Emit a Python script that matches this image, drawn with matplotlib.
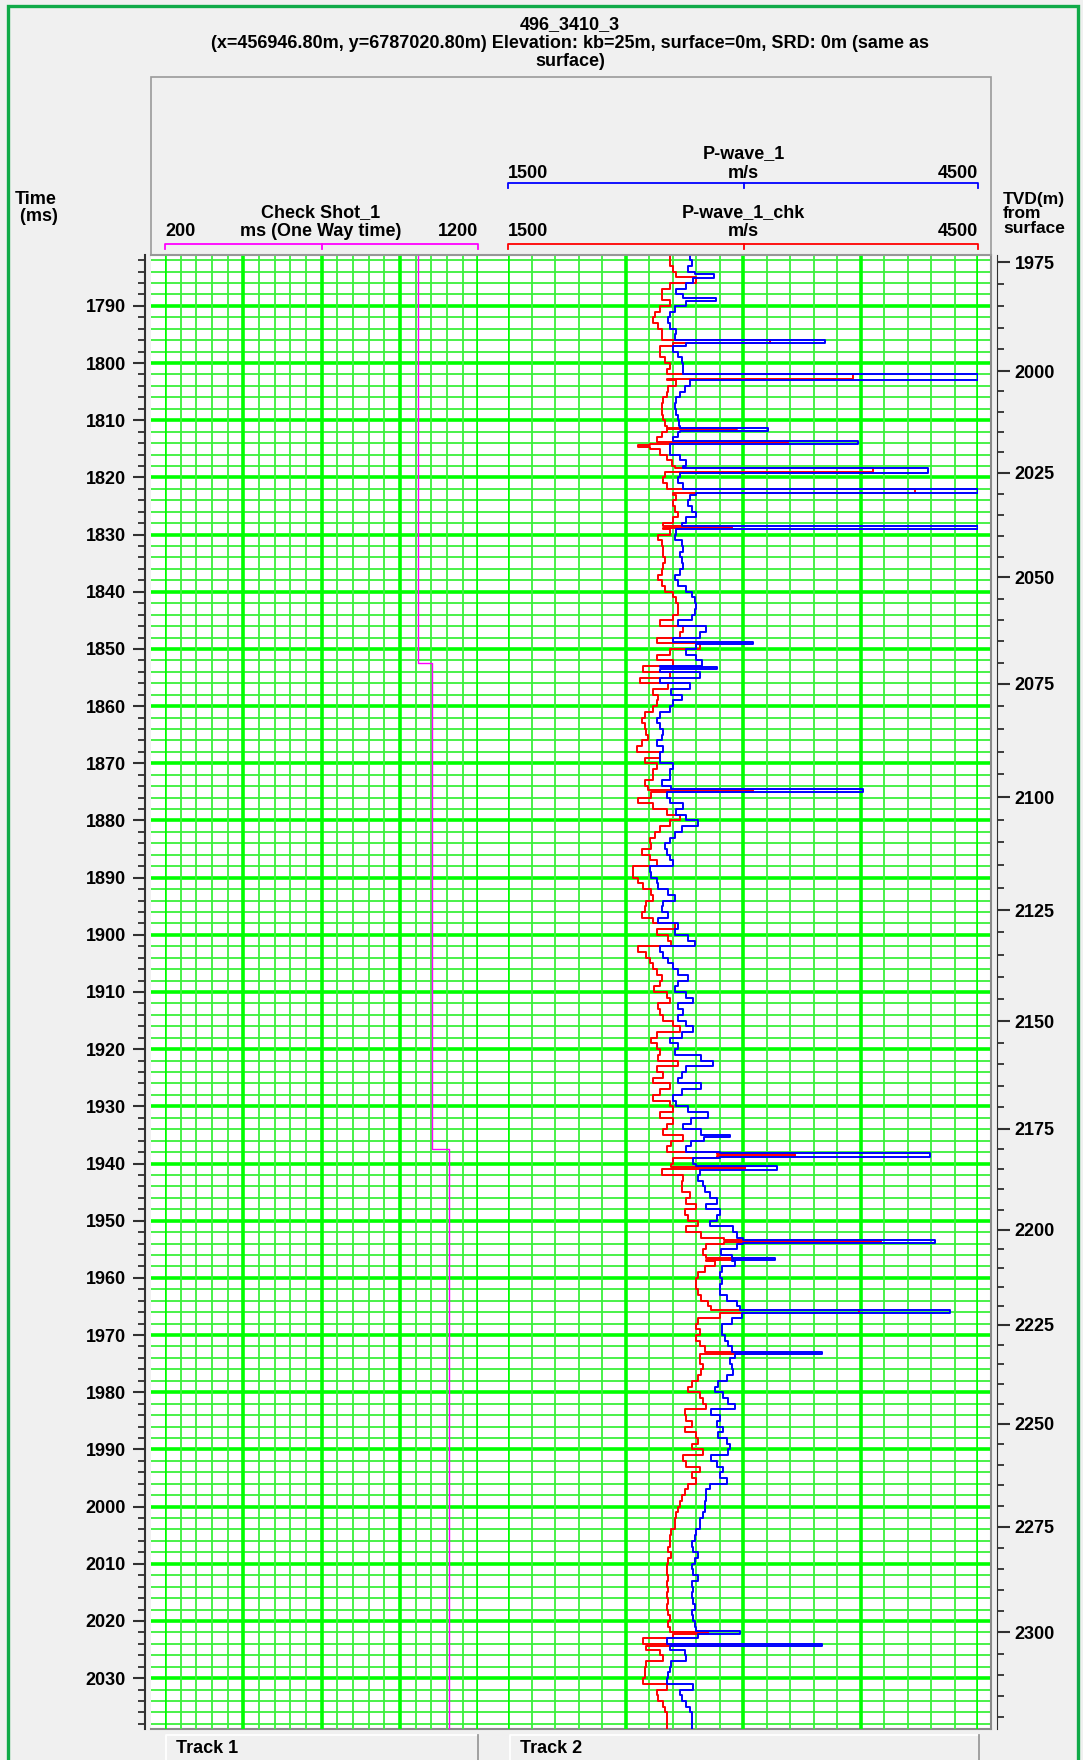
import numpy as np
import matplotlib.pyplot as plt
from matplotlib.patches import Rectangle
from matplotlib.lines import Line2D
from matplotlib.ticker import MultipleLocator

W, H = 1083, 1760
plt.rcParams['font.family'] = ['Liberation Sans', 'DejaVu Sans']
plt.rcParams['font.weight'] = 'bold'

t_top, t_bot = 1781.1, 2038.9
base_t0 = 1781  # first sample, then one value per ms

blue_v = [
    2659, 2670, 2648, 2690, 2680, 2637, 2573, 2616, 2637, 2563,  # 1781-1790
    2531, 2520, 2531, 2573, 2563, 2637, 2552, 2584, 2606, 2616,  # 1791-1800
    2616, 2701, 2659, 2627, 2595, 2573, 2563, 2573, 2584, 2590,  # 1801-1810
    2595, 2584, 2552, 2531, 2531, 2595, 2637, 2616, 2595, 2584,  # 1811-1820
    2616, 2701, 2659, 2648, 2670, 2701, 2637, 2606, 2573, 2563,  # 1821-1830
    2606, 2616, 2595, 2606, 2616, 2595, 2563, 2584, 2637, 2670,  # 1831-1840
    2690, 2701, 2690, 2670, 2584, 2759, 2722, 2552, 2701, 2637,  # 1841-1850
    2701, 2738, 2467, 2722, 2467, 2659, 2541, 2606, 2552, 2531,  # 1851-1860
    2467, 2446, 2467, 2489, 2478, 2446, 2489, 2467, 2467, 2552,  # 1861-1870
    2531, 2531, 2478, 2541, 2510, 2531, 2616, 2573, 2637, 2712,  # 1871-1880
    2606, 2563, 2531, 2499, 2510, 2531, 2552, 2404, 2414, 2446,  # 1881-1890
    2457, 2520, 2563, 2489, 2478, 2520, 2457, 2584, 2563, 2648,  # 1891-1900
    2690, 2467, 2489, 2520, 2552, 2584, 2648, 2584, 2563, 2637,  # 1901-1910
    2680, 2584, 2616, 2584, 2637, 2680, 2606, 2531, 2584, 2563,  # 1911-1920
    2733, 2808, 2637, 2606, 2584, 2733, 2606, 2552, 2573, 2648,  # 1921-1930
    2776, 2669, 2616, 2733, 2750, 2669, 2637, 2850, 2680, 2701,  # 1931-1940
    2722, 2712, 2744, 2755, 2786, 2829, 2765, 2850, 2829, 2786,  # 1941-1950
    2935, 2957, 3000, 2957, 2855, 2925, 2946, 2861, 2850, 2861,  # 1951-1960
    2850, 2850, 2893, 2957, 2978, 2990, 2925, 2861, 2861, 2882,  # 1961-1970
    2903, 2925, 2946, 2914, 2925, 2935, 2893, 2840, 2818, 2871,  # 1971-1980
    2903, 2946, 2797, 2850, 2829, 2871, 2840, 2893, 2914, 2903,  # 1981-1990
    2797, 2829, 2871, 2850, 2893, 2786, 2765, 2765, 2755, 2755,  # 1991-2000
    2744, 2722, 2722, 2701, 2690, 2670, 2680, 2712, 2690, 2670,  # 2001-2010
    2680, 2712, 2670, 2680, 2670, 2680, 2690, 2670, 2680, 2690,  # 2011-2020
    2701, 2712, 2510, 2531, 2627, 2637, 2541, 2531, 2520, 2510,  # 2021-2030
    2680, 2595, 2606, 2637, 2659, 2670, 2670, 2670,              # 2031-2038
]

red_v = [
    2531, 2531, 2552, 2573, 2701, 2531, 2478, 2478, 2531, 2467,  # 1781-1790
    2435, 2425, 2457, 2478, 2478, 2552, 2467, 2467, 2499, 2531,  # 1791-1800
    2510, 2510, 2573, 2520, 2510, 2489, 2478, 2478, 2489, 2499,  # 1801-1810
    2510, 2478, 2446, 2404, 2467, 2510, 2542, 2563, 2499, 2489,  # 1811-1820
    2510, 2552, 2573, 2552, 2563, 2584, 2552, 2489, 2531, 2457,  # 1821-1830
    2478, 2489, 2489, 2499, 2489, 2478, 2457, 2478, 2499, 2552,  # 1831-1840
    2573, 2584, 2584, 2552, 2467, 2616, 2595, 2446, 2722, 2531,  # 1841-1850
    2446, 2552, 2361, 2531, 2340, 2520, 2425, 2457, 2446, 2425,  # 1851-1860
    2372, 2351, 2372, 2382, 2393, 2351, 2319, 2467, 2372, 2446,  # 1861-1870
    2425, 2425, 2372, 2393, 2414, 2329, 2425, 2510, 2595, 2531,  # 1871-1880
    2467, 2435, 2404, 2414, 2351, 2404, 2446, 2297, 2297, 2329,  # 1881-1890
    2361, 2414, 2425, 2382, 2372, 2351, 2425, 2563, 2446, 2520,  # 1891-1900
    2541, 2329, 2382, 2404, 2425, 2446, 2478, 2467, 2430, 2510,  # 1901-1910
    2531, 2457, 2467, 2489, 2552, 2595, 2446, 2414, 2446, 2467,  # 1911-1920
    2457, 2584, 2446, 2489, 2425, 2531, 2467, 2425, 2531, 2552,  # 1921-1930
    2467, 2552, 2510, 2489, 2616, 2541, 2510, 2829, 2552, 2541,  # 1931-1940
    2478, 2616, 2606, 2606, 2659, 2637, 2701, 2627, 2648, 2712,  # 1941-1950
    2637, 2730, 2876, 2765, 2744, 2765, 2818, 2755, 2712, 2701,  # 1951-1960
    2701, 2712, 2733, 2776, 2797, 2850, 2712, 2701, 2722, 2701,  # 1961-1970
    2722, 2755, 2722, 2722, 2744, 2733, 2712, 2670, 2648, 2722,  # 1971-1980
    2744, 2765, 2627, 2637, 2670, 2627, 2701, 2712, 2670, 2744,  # 1981-1990
    2616, 2637, 2722, 2670, 2701, 2648, 2627, 2606, 2595, 2584,  # 1991-2000
    2573, 2563, 2563, 2541, 2531, 2531, 2520, 2541, 2520, 2510,  # 2001-2010
    2510, 2520, 2510, 2520, 2510, 2520, 2510, 2520, 2531, 2520,  # 2011-2020
    2531, 2552, 2361, 2382, 2467, 2489, 2382, 2372, 2372, 2361,  # 2021-2030
    2510, 2446, 2457, 2489, 2499, 2510, 2510, 2510,              # 2031-2038
]

# thin high-velocity spikes: start time, end time, value
blue_spk_t0 = [1784.5, 1788.6, 1795.9, 1801.9, 1811.3, 1813.7, 1818.4, 1822.1, 1828.5, 1848.7, 1853.1,
               1874.55, 1935.0, 1938.2, 1940.5, 1953.3, 1956.5, 1965.6, 1973.0, 2021.8, 2024.1]
blue_spk_t1 = [1785.1, 1789.1, 1796.5, 1802.9, 1811.9, 1814.2, 1819.2, 1822.7, 1829.1, 1849.1, 1853.5,
               1875.1, 1935.3, 1938.8, 1941.1, 1953.9, 1956.8, 1966.2, 1973.4, 2022.3, 2024.4]
blue_spk_v = [2814, 2825, 3520, 4500, 3159, 3733, 4180, 4500, 4500, 3063, 2833,
              3765, 2914, 4191, 3213, 4222, 3201, 4318, 3504, 2982, 3504]

red_spk_t0 = [1795.9, 1801.9, 1811.3, 1813.8, 1814.3, 1818.4, 1822.1, 1828.5, 1874.6,
              1938.3, 1940.6, 1953.4, 1956.5, 1965.7, 1973.0, 2021.9, 2024.1]
red_spk_t1 = [1796.5, 1802.7, 1811.6, 1814.2, 1814.6, 1819.0, 1822.7, 1828.8, 1875.0,
              1938.7, 1941.0, 1953.8, 1956.8, 1966.1, 1973.4, 2022.3, 2024.4]
red_spk_v = [3169, 3701, 2957, 3288, 2329, 3829, 4095, 2925, 3063,
             3330, 3010, 3876, 2935, 3738, 3276, 2775, 2999]

# check shot (one way time) steps
cs_time = [1781.0, 1852.4, 1937.5, 2039.0]
cs_owt = [1008, 1052, 1106]

# time-depth relation for the right axis
tvd_m = [1970, 1975, 2000, 2025, 2050, 2075, 2100, 2125, 2150, 2175, 2200, 2225, 2250, 2275, 2300, 2325]
tvd_twt = [1778.6, 1782.4, 1801.4, 1819.2, 1837.5, 1856.1, 1875.9, 1895.7, 1915.1, 1933.9,
           1951.6, 1968.2, 1985.5, 2003.5, 2022.0, 2040.5]


def fx(x):
    return x / W


def fy(y):
    return 1 - y / H


def step_log(base, s0, s1, sv):
    n = len(base)
    edges = np.unique(np.concatenate([base_t0 + np.arange(n + 1), s0, s1]))
    xs, ys = [], []
    for a, b in zip(edges[:-1], edges[1:]):
        m = 0.5 * (a + b)
        v = base[min(int(m - base_t0), n - 1)]
        for k in range(len(s0)):
            if s0[k] <= m < s1[k]:
                v = sv[k]
        xs += [v, v]
        ys += [a, b]
    return xs, ys


fig = plt.figure(figsize=(W / 100, H / 100), dpi=100, facecolor='#f0f0f0')

# outer green frame and header box
fig.add_artist(Rectangle((fx(8), fy(1775)), fx(1078 - 8), (1775 - 6) / H, transform=fig.transFigure,
                         fill=False, edgecolor='#10aa48', lw=2.4))
fig.add_artist(Rectangle((fx(150.5), fy(255)), fx(991 - 150.5), (255 - 77) / H, transform=fig.transFigure,
                         fill=False, edgecolor='#9a9a9a', lw=1.2))

L, R, T, B = 151, 991, 255, 1729
ax = fig.add_axes([fx(L), fy(B), fx(R - L), (B - T) / H])
ax.set_facecolor('white')
ax.set_ylim(t_bot, t_top)
ax.set_xlim(0, 1)
ax.set_xticks([])
for t in range(1782, 2039, 2):
    if t % 10 == 0:
        ax.axhline(t, color='#00ff00', lw=2.6, zorder=1)
    else:
        ax.axhline(t, color='#3cf03c', lw=1.3, zorder=1)
for s in ax.spines.values():
    s.set_color('#8a8a8a')
    s.set_linewidth(1.5)
ax.spines['left'].set_position(('outward', 4))
ax.spines['left'].set_color('#303030')
ax.yaxis.set_major_locator(MultipleLocator(10))
ax.yaxis.set_minor_locator(MultipleLocator(2))
ax.tick_params(axis='y', which='major', length=9, width=1.5, color='#303030', labelsize=13, pad=5)
ax.tick_params(axis='y', which='minor', length=5, width=1.3, color='#303030')

# right axis: TVD from surface
sec = ax.secondary_yaxis('right', functions=(lambda t: np.interp(t, tvd_twt, tvd_m),
                                             lambda d: np.interp(d, tvd_m, tvd_twt)))
sec.yaxis.set_major_locator(MultipleLocator(25))
sec.yaxis.set_minor_locator(MultipleLocator(5))
sec.spines['right'].set_color('#303030')
sec.spines['right'].set_position(('outward', 4))
sec.tick_params(axis='y', which='major', length=9, width=1.5, color='#303030', labelsize=13, pad=4)
sec.tick_params(axis='y', which='minor', length=5, width=1.3, color='#303030')
for lab in ax.get_yticklabels() + sec.get_yticklabels():
    lab.set_fontweight('bold')

# track 1: check shot
ax1 = fig.add_axes([fx(165), fy(B), fx(478.3 - 165), (B - T) / H], sharey=ax)
ax1.patch.set_alpha(0)
ax1.set_xlim(200, 1200)
for x in range(200, 1201, 50):
    major = (x - 200) % 250 == 0
    ax1.axvline(x, color='#00ff00' if major else '#3cf03c', lw=2.6 if major else 1.3, zorder=1)
cx, cy = [], []
for k in range(len(cs_owt)):
    cx += [cs_owt[k], cs_owt[k]]
    cy += [cs_time[k], cs_time[k + 1]]
ax1.plot(cx, cy, color='#ff00ff', lw=1.0, zorder=3)
ax1.axis('off')
ax1.set_ylim(t_bot, t_top)

# track 2: P-wave velocities
ax2 = fig.add_axes([fx(508.3), fy(B), fx(978.3 - 508.3), (B - T) / H], sharey=ax)
ax2.patch.set_alpha(0)
ax2.set_xlim(1500, 4500)
for x in range(1500, 4501, 150):
    major = (x - 1500) % 750 == 0
    ax2.axvline(x, color='#00ff00' if major else '#3cf03c', lw=2.6 if major else 1.3, zorder=1)
rx, ry = step_log(red_v, red_spk_t0, red_spk_t1, red_spk_v)
bx, by = step_log(blue_v, blue_spk_t0, blue_spk_t1, blue_spk_v)
ax2.plot(rx, ry, color='#ff0000', lw=1.4, zorder=3)
ax2.plot(bx, by, color='#0000ff', lw=1.4, zorder=4)
ax2.axis('off')
ax2.set_ylim(t_bot, t_top)


def ftxt(x, y, s, ha='center', **kw):
    fig.text(fx(x), fy(y), s, ha=ha, va='center', fontsize=kw.pop('size', 13), fontweight='bold', **kw)


def fline(xs, ys, color):
    fig.add_artist(Line2D([fx(v) for v in xs], [fy(v) for v in ys], transform=fig.transFigure,
                          color=color, lw=1.3))


# title
ftxt(570, 43, '496_3410_3\n(x=456946.80m, y=6787020.80m) Elevation: kb=25m, surface=0m, SRD: 0m (same as\nsurface)',
     linespacing=1.1)

# axis headers
ftxt(15, 208, 'Time\n (ms)', ha='left', linespacing=1.0)
ftxt(1003, 214, 'TVD(m)\nfrom\nsurface', ha='left', linespacing=0.92, size=12.5)

# curve headers
ftxt(321, 213, 'Check Shot_1')
ftxt(165, 232, '200', ha='left')
ftxt(321, 232, 'ms (One Way time)')
ftxt(478, 232, '1200', ha='right')
fline([165, 165, 478, 478], [249, 243.5, 243.5, 249], '#ff00ff')
fline([321.5, 321.5], [243.5, 249], '#ff00ff')

ftxt(743.5, 154, 'P-wave_1')
ftxt(508.3, 173, '1500', ha='left')
ftxt(743.5, 173, 'm/s')
ftxt(978.3, 173, '4500', ha='right')
fline([508.3, 508.3, 978.3, 978.3], [188.5, 183, 183, 188.5], '#0000ff')
fline([743.5, 743.5], [183, 188.5], '#0000ff')

ftxt(743.5, 213, 'P-wave_1_chk')
ftxt(508.3, 232, '1500', ha='left')
ftxt(743.5, 232, 'm/s')
ftxt(978.3, 232, '4500', ha='right')
fline([508.3, 508.3, 978.3, 978.3], [249, 243.5, 243.5, 249], '#ff0000')
fline([743.5, 743.5], [243.5, 249], '#ff0000')

# track name boxes
for x0, x1, name in [(166, 478, 'Track 1'), (509.5, 979, 'Track 2')]:
    fline([x0, x0, x1], [1770, 1735, 1735], 'white')
    fline([x1, x1], [1735, 1770], '#9a9a9a')
    ftxt(x0 + 10, 1748, name, ha='left')

fig.savefig('out.png', dpi=100, facecolor=fig.get_facecolor())
